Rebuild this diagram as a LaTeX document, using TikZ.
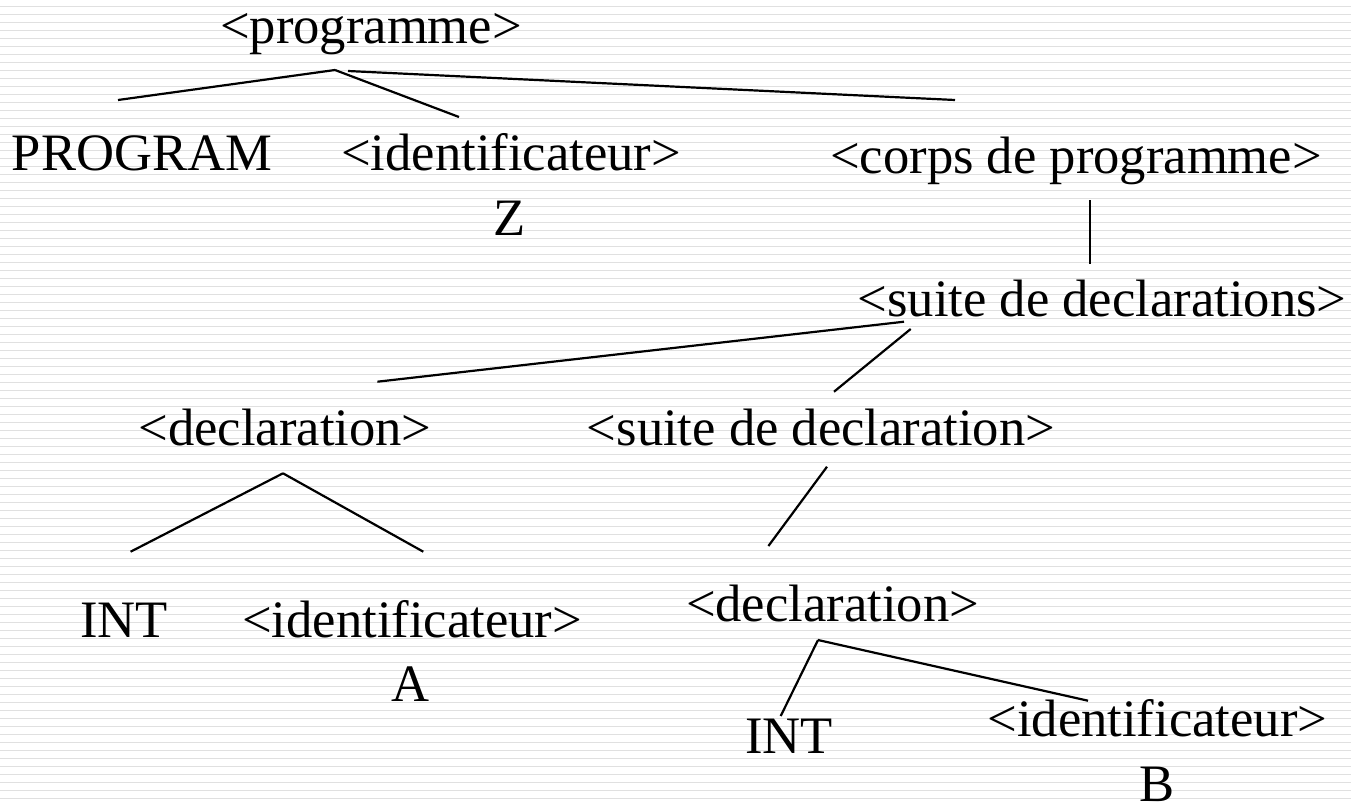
\documentclass[tikz,border=0pt]{standalone}
\usepackage{fontspec}
\setmainfont{Liberation Serif}
\begin{document}
\begin{tikzpicture}[x=1pt,y=-1pt,
  lbl/.style={anchor=base, inner sep=0pt, outer sep=0pt, font=\fontsize{52.6}{63}\selectfont},
  edge/.style={line width=2.2pt, black},
  rulebg/.style={line width=1.4pt, black!12}]
\useasboundingbox (0,0) rectangle (1351,804);
\fill[white] (0,0) rectangle (1351,804);
\foreach \k in {0,...,99} { \draw[rulebg] (0,{6.7+8*\k}) -- (1351,{6.7+8*\k}); }

% nodes
\node[lbl] (prog)   at (371,43.3)   {<programme>};
\node[lbl] (PROG)   at (142,170.7)  {PROGRAM};
\node[lbl] (id1)    at (511,170)    {<identificateur>};
\node[lbl] (Z)      at (510,235)    {Z};
\node[lbl] (corps)  at (1076,173.3) {<corps de programme>};
\node[lbl] (suites) at (1102,316.7) {<suite de declarations>};
\node[lbl] (decl1)  at (285,445)    {<declaration>};
\node[lbl] (suited) at (821,445)    {<suite de declaration>};
\node[lbl] (int1)   at (124,637.3)  {INT};
\node[lbl] (id2)    at (412,637)    {<identificateur>};
\node[lbl] (A)      at (410,701.7)  {A};
\node[lbl] (decl2)  at (832.5,621.7){<declaration>};
\node[lbl] (int2)   at (789,753.3)  {INT};
\node[lbl] (id3)    at (1157.3,736.7){<identificateur>};
\node[lbl] (B)      at (1157,801)   {B};

% connector end points
\coordinate (progA)  at (335,70);
\coordinate (progB)  at (348,71);
\coordinate (PROGt)  at (118,100);
\coordinate (id1t)   at (459,117);
\coordinate (corpst) at (955,100);
\coordinate (corpsb) at (1090,200);
\coordinate (suitest) at (1090,264);
\coordinate (suitesA) at (904,321.7);
\coordinate (suitesB) at (910.7,329);
\coordinate (decl1t) at (377.4,381.7);
\coordinate (suitedt) at (834,391.7);
\coordinate (decl1b) at (283,473.3);
\coordinate (int1t)  at (130.6,551.7);
\coordinate (id2t)   at (423.3,551.7);
\coordinate (suitedb) at (827,466.7);
\coordinate (decl2t) at (768.4,546);
\coordinate (decl2b) at (818,640);
\coordinate (int2t)  at (780.7,716);
\coordinate (id3t)   at (1088,700.7);

% connectors
\draw[edge] (progA) -- (PROGt);
\draw[edge] (progA) -- (id1t);
\draw[edge] (progB) -- (corpst);
\draw[edge] (corpsb) -- (suitest);
\draw[edge] (suitesA) -- (decl1t);
\draw[edge] (suitesB) -- (suitedt);
\draw[edge] (decl1b) -- (int1t);
\draw[edge] (decl1b) -- (id2t);
\draw[edge] (suitedb) -- (decl2t);
\draw[edge] (decl2b) -- (int2t);
\draw[edge] (decl2b) -- (id3t);
\end{tikzpicture}
\end{document}
